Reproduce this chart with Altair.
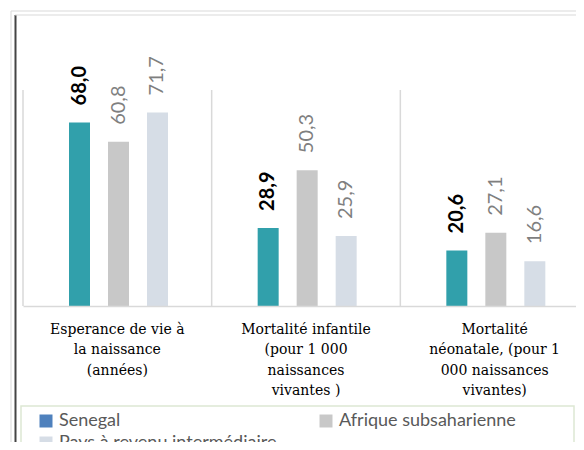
import altair as alt
import pandas as pd

categories = [
    "Esperance de vie à\nla naissance\n(années)",
    "Mortalité infantile\n(pour 1 000\nnaissances\nvivantes )",
    "Mortalité\nnéonatale, (pour 1\n000 naissances\nvivantes)",
]
series = ["Senegal", "Afrique subsaharienne", "Pays à revenu intermédiaire"]
senegal = [68.0, 28.9, 20.6]
afrique = [60.8, 50.3, 27.1]
pays = [71.7, 25.9, 16.6]

bar_colors = ["#31a0ab", "#c8c8c8", "#d6dde6"]
legend_colors = ["#4f81bd", "#c8c8c8", "#d6dde6"]

rows = []
for s, vals in zip(series, [senegal, afrique, pays]):
    for c, v in zip(categories, vals):
        rows.append({"cat": c, "series": s, "value": v,
                     "label": f"{v:.1f}".replace(".", ",")})
df = pd.DataFrame(rows)

W, H = 553, 216

x_enc = alt.X("cat:N", sort=categories,
              scale=alt.Scale(range=[0, 566], paddingInner=0, paddingOuter=0),
              axis=alt.Axis(title=None, labelAngle=0, labelAlign="center",
                            labelBaseline="top", zindex=1,
                            domainColor="#d9d9d9",
                            domainWidth=1.5, ticks=False, grid=False,
                            labelFont="DejaVu Serif", labelFontSize=14,
                            labelColor="#000000", labelPadding=16,
                            labelLineHeight=20.5, labelLimit=400,
                            labelExpr=r"split(datum.label, '\n')"))
xo_enc = alt.XOffset("series:N", sort=series,
                     scale=alt.Scale(range=[46, 145], paddingInner=0.4615,
                                     paddingOuter=0))
y_enc = alt.Y("value:Q", scale=alt.Scale(domain=[0, 80], nice=False), axis=None)

base = alt.Chart(df)

grid = alt.Chart(pd.DataFrame({"cat": categories})).mark_rule(
    color="#d9d9d9", strokeWidth=1.5).encode(
    x=alt.X("cat:N", sort=categories, bandPosition=0),
    y=alt.value(0), y2=alt.value(H))

bars = base.mark_bar().encode(
    x=x_enc, xOffset=xo_enc, y=y_enc,
    color=alt.Color("series:N", sort=series,
                    scale=alt.Scale(domain=series, range=bar_colors), legend=None))

txt_bold = base.transform_filter(alt.datum.series == "Senegal").mark_text(
    angle=270, align="left", baseline="middle", dx=17, font="Lato",
    fontSize=20, fontWeight="bold", color="#000000").encode(
    x=x_enc, xOffset=xo_enc, y=y_enc, text="label:N")

txt_norm = base.transform_filter(alt.datum.series != "Senegal").mark_text(
    angle=270, align="left", baseline="middle", dx=17, font="Lato",
    fontSize=20, color="#7f7f7f").encode(
    x=x_enc, xOffset=xo_enc, y=y_enc, text="label:N")

legend_order = [series[0], series[2], series[1]]

legend_layer = base.mark_square(size=0, opacity=0).encode(
    x=x_enc, xOffset=xo_enc, y=y_enc,
    fill=alt.Fill("series:N", sort=series,
                  scale=alt.Scale(domain=series, range=legend_colors),
                  legend=alt.Legend(title=None, orient="none", legendX=14,
                                    legendY=322, columns=2, columnPadding=40,
                                    values=legend_order,
                                    rowPadding=4, symbolType="square",
                                    symbolSize=169, symbolOpacity=1,
                                    symbolStrokeWidth=0, labelFont="Lato",
                                    labelFontSize=18, labelColor="#595959",
                                    labelLimit=400, padding=0)))

legend_box = alt.Chart(pd.DataFrame({"a": [0]})).mark_rect(
    fillOpacity=0, stroke="#dde8d3", strokeWidth=1.5).encode(
    x=alt.value(-2), x2=alt.value(551), y=alt.value(316), y2=alt.value(400))

frame = alt.Chart(pd.DataFrame({"a": [0]}))
f1 = frame.mark_rule(color="#d9d9d9", strokeWidth=1).encode(
    x=alt.value(-12), y=alt.value(-79), y2=alt.value(400))
f2 = frame.mark_rule(color="#444444", strokeWidth=2).encode(
    x=alt.value(-7.5), y=alt.value(-75), y2=alt.value(400))
f3 = frame.mark_rule(color="#d9d9d9", strokeWidth=1).encode(
    x=alt.value(-12), x2=alt.value(600), y=alt.value(-79))
f4 = frame.mark_rule(color="#d9d9d9", strokeWidth=1).encode(
    x=alt.value(-8), x2=alt.value(600), y=alt.value(-75))

chart = alt.layer(f1, f2, f3, f4, legend_box, grid, bars, txt_bold, txt_norm,
                  legend_layer).resolve_scale(color="independent").properties(
    width=W, height=H,
    padding={"left": 15, "top": 82, "right": 0, "bottom": 136},
    autosize=alt.AutoSizeParams(type="none"),
).configure_view(stroke=None)

chart.save("out.html", embed_options={"renderer": "svg", "actions": False})
